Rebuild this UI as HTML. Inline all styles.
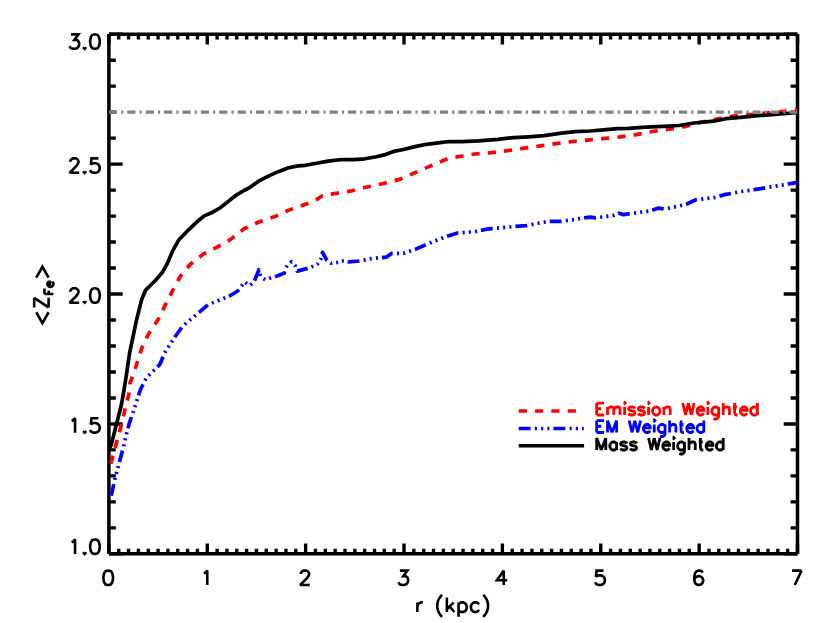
<!DOCTYPE html>
<html><head><meta charset="utf-8"><title>plot</title>
<style>
html,body{margin:0;padding:0;background:#fff;}
body{width:830px;height:623px;overflow:hidden;font-family:"Liberation Sans",sans-serif;}
svg{display:block;}
</style></head><body>
<svg width="830" height="623" viewBox="0 0 830 623">
<rect width="830" height="623" fill="#fff"/>
<defs><clipPath id="pw"><rect x="108.9" y="34.2" width="688.6" height="519.6"/></clipPath></defs>
<g fill="none" stroke="#000">
<path d="M108.90,553.85v-10.4M108.90,34.20v10.4M118.74,553.85v-5.2M118.74,34.20v5.2M128.57,553.85v-5.2M128.57,34.20v5.2M138.41,553.85v-5.2M138.41,34.20v5.2M148.25,553.85v-5.2M148.25,34.20v5.2M158.09,553.85v-5.2M158.09,34.20v5.2M167.92,553.85v-5.2M167.92,34.20v5.2M177.76,553.85v-5.2M177.76,34.20v5.2M187.60,553.85v-5.2M187.60,34.20v5.2M197.43,553.85v-5.2M197.43,34.20v5.2M207.27,553.85v-10.4M207.27,34.20v10.4M217.11,553.85v-5.2M217.11,34.20v5.2M226.95,553.85v-5.2M226.95,34.20v5.2M236.78,553.85v-5.2M236.78,34.20v5.2M246.62,553.85v-5.2M246.62,34.20v5.2M256.46,553.85v-5.2M256.46,34.20v5.2M266.29,553.85v-5.2M266.29,34.20v5.2M276.13,553.85v-5.2M276.13,34.20v5.2M285.97,553.85v-5.2M285.97,34.20v5.2M295.81,553.85v-5.2M295.81,34.20v5.2M305.64,553.85v-10.4M305.64,34.20v10.4M315.48,553.85v-5.2M315.48,34.20v5.2M325.32,553.85v-5.2M325.32,34.20v5.2M335.15,553.85v-5.2M335.15,34.20v5.2M344.99,553.85v-5.2M344.99,34.20v5.2M354.83,553.85v-5.2M354.83,34.20v5.2M364.67,553.85v-5.2M364.67,34.20v5.2M374.50,553.85v-5.2M374.50,34.20v5.2M384.34,553.85v-5.2M384.34,34.20v5.2M394.18,553.85v-5.2M394.18,34.20v5.2M404.01,553.85v-10.4M404.01,34.20v10.4M413.85,553.85v-5.2M413.85,34.20v5.2M423.69,553.85v-5.2M423.69,34.20v5.2M433.53,553.85v-5.2M433.53,34.20v5.2M443.36,553.85v-5.2M443.36,34.20v5.2M453.20,553.85v-5.2M453.20,34.20v5.2M463.04,553.85v-5.2M463.04,34.20v5.2M472.87,553.85v-5.2M472.87,34.20v5.2M482.71,553.85v-5.2M482.71,34.20v5.2M492.55,553.85v-5.2M492.55,34.20v5.2M502.39,553.85v-10.4M502.39,34.20v10.4M512.22,553.85v-5.2M512.22,34.20v5.2M522.06,553.85v-5.2M522.06,34.20v5.2M531.90,553.85v-5.2M531.90,34.20v5.2M541.73,553.85v-5.2M541.73,34.20v5.2M551.57,553.85v-5.2M551.57,34.20v5.2M561.41,553.85v-5.2M561.41,34.20v5.2M571.25,553.85v-5.2M571.25,34.20v5.2M581.08,553.85v-5.2M581.08,34.20v5.2M590.92,553.85v-5.2M590.92,34.20v5.2M600.76,553.85v-10.4M600.76,34.20v10.4M610.59,553.85v-5.2M610.59,34.20v5.2M620.43,553.85v-5.2M620.43,34.20v5.2M630.27,553.85v-5.2M630.27,34.20v5.2M640.11,553.85v-5.2M640.11,34.20v5.2M649.94,553.85v-5.2M649.94,34.20v5.2M659.78,553.85v-5.2M659.78,34.20v5.2M669.62,553.85v-5.2M669.62,34.20v5.2M679.45,553.85v-5.2M679.45,34.20v5.2M689.29,553.85v-5.2M689.29,34.20v5.2M699.13,553.85v-10.4M699.13,34.20v10.4M708.97,553.85v-5.2M708.97,34.20v5.2M718.80,553.85v-5.2M718.80,34.20v5.2M728.64,553.85v-5.2M728.64,34.20v5.2M738.48,553.85v-5.2M738.48,34.20v5.2M748.31,553.85v-5.2M748.31,34.20v5.2M758.15,553.85v-5.2M758.15,34.20v5.2M767.99,553.85v-5.2M767.99,34.20v5.2M777.83,553.85v-5.2M777.83,34.20v5.2M787.66,553.85v-5.2M787.66,34.20v5.2M797.50,553.85v-10.4M797.50,34.20v10.4M108.90,553.85h13.8M797.50,553.85h-13.8M108.90,527.87h6.9M797.50,527.87h-6.9M108.90,501.89h6.9M797.50,501.89h-6.9M108.90,475.90h6.9M797.50,475.90h-6.9M108.90,449.92h6.9M797.50,449.92h-6.9M108.90,423.94h13.8M797.50,423.94h-13.8M108.90,397.96h6.9M797.50,397.96h-6.9M108.90,371.97h6.9M797.50,371.97h-6.9M108.90,345.99h6.9M797.50,345.99h-6.9M108.90,320.01h6.9M797.50,320.01h-6.9M108.90,294.03h13.8M797.50,294.03h-13.8M108.90,268.04h6.9M797.50,268.04h-6.9M108.90,242.06h6.9M797.50,242.06h-6.9M108.90,216.08h6.9M797.50,216.08h-6.9M108.90,190.10h6.9M797.50,190.10h-6.9M108.90,164.11h13.8M797.50,164.11h-13.8M108.90,138.13h6.9M797.50,138.13h-6.9M108.90,112.15h6.9M797.50,112.15h-6.9M108.90,86.17h6.9M797.50,86.17h-6.9M108.90,60.18h6.9M797.50,60.18h-6.9M108.90,34.20h13.8M797.50,34.20h-13.8" stroke-width="3.4"/>
<path d="M108.9,553.85H797.5M108.9,34.2H797.5M108.9,34.2V553.85M797.5,34.2V553.85" stroke-width="3.5" stroke-linecap="butt"/>
</g>
<g fill="none" stroke-linejoin="round" clip-path="url(#pw)">
<polyline points="110.6,463.6 111.2,462.3 116.4,443.0 121.2,425.7 125.0,409.3 128.9,393.9 129.9,383.7 136.6,364.5 141.4,349.0 148.2,334.6 157.8,320.1 165.5,304.7 173.5,289.0 180.5,276.0 190.1,264.5 203.6,253.9 217.1,247.1 230.6,239.4 244.1,228.8 259.5,221.7 274.9,216.6 286.1,211.3 292.2,208.9 300.6,206.1 307.8,203.4 316.3,199.7 322.3,195.8 330.7,194.1 338.0,193.1 350.0,191.2 364.8,187.5 382.2,183.8 399.5,179.4 414.9,172.7 428.4,166.9 440.0,162.0 449.6,157.9 459.3,156.5 474.7,154.0 492.0,152.7 507.5,150.7 522.9,148.4 540.2,145.9 555.7,143.6 573.0,141.5 590.0,139.8 605.4,138.4 620.8,136.9 636.3,134.6 653.6,131.3 671.0,128.8 686.4,126.3 699.9,122.5 717.3,119.0 733.3,116.1 749.2,114.7 765.0,113.2 782.4,111.6 797.8,109.9" stroke="#ff0000" stroke-width="3.7" stroke-dasharray="8.2 8.13" stroke-dashoffset="0.00"/>
<polyline points="111.0,495.7 111.6,494.1 115.4,476.7 122.2,451.7 128.9,424.7 134.7,407.3 140.5,389.5 146.3,378.0 159.8,364.5 164.6,352.9 175.2,336.5 182.9,325.9 200.2,311.4 208.0,304.7 227.2,297.0 230.0,295.7 238.0,290.7 244.5,282.0 249.5,285.6 254.0,282.0 258.9,269.7 261.0,277.0 265.4,279.8 271.2,277.6 276.3,276.2 284.2,273.3 285.0,269.7 287.1,265.4 291.4,261.7 295.0,265.4 297.0,270.6" stroke="#0000ff" stroke-width="3.7" stroke-dasharray="11.903 4.301 2.101 4.101 2.101 4.101 2.101 4.001"/>
<polyline points="297.0,270.6 297.2,271.1 308.0,268.3 313.1,266.1 317.5,263.9 321.0,258.9 322.5,252.3 326.9,260.3 331.2,263.2 337.0,262.5 342.8,261.0 347.6,261.7" stroke="#0000ff" stroke-width="3.7" stroke-dasharray="11.328 4.093 1.999 3.903 1.999 3.903 1.999 3.808"/>
<polyline points="347.6,261.7 348.7,261.9 359.3,261.0 370.8,258.7 386.3,257.1 392.0,253.3 403.6,253.3 415.2,249.4 430.6,242.7 448.0,235.9 457.6,233.0 474.9,231.7 486.5,229.2 491.6,228.6 514.7,226.5 526.3,225.6 537.8,223.3 549.4,221.3 561.0,221.3 572.5,219.8 584.1,217.9 589.9,217.1 595.7,217.9 613.0,215.5 618.8,213.2 623.6,214.6 630.4,213.6 640.0,212.3 649.6,211.0 658.3,208.1 665.1,209.0 678.6,206.1 686.3,204.2 695.9,199.8 707.5,198.4 717.1,197.1 724.8,194.6 740.2,191.7 755.7,189.4 771.1,186.9 786.5,184.4 797.8,182.3" stroke="#0000ff" stroke-width="3.7" stroke-dasharray="11.9 4.3 2.1 4.1 2.1 4.1 2.1 4.0"/>
<polyline points="108.9,449.6 111.2,445.0 118.3,417.0 121.5,404.3 124.1,389.5 126.4,375.0 129.6,352.9 136.5,320.1 141.6,299.8 145.5,290.3 155.6,280.2 162.4,272.3 167.0,264.2 172.9,250.4 178.9,239.7 188.6,229.8 198.2,220.7 204.2,215.9 212.7,212.2 219.9,208.0 228.3,201.4 236.7,194.8 244.0,190.5 250.0,187.3 259.6,180.6 269.3,175.6 278.9,171.4 288.6,167.8 298.2,165.9 305.4,165.3 315.1,163.5 328.2,161.1 341.7,159.5 353.3,159.7 364.8,158.8 376.4,156.8 384.1,154.9 393.7,151.4 403.4,149.5 414.9,146.6 426.5,144.3 440.0,142.7 449.6,141.5 461.2,141.7 478.6,140.9 497.8,139.3 513.3,137.6 528.7,136.8 544.1,135.7 559.5,133.4 574.9,131.6 590.0,131.0 603.5,129.8 617.0,128.6 628.6,128.4 645.9,127.1 663.3,126.3 678.7,125.5 694.1,123.0 713.4,121.2 726.0,118.7 740.5,117.3 757.8,115.7 775.2,114.4 786.7,113.5 797.8,112.3" stroke="#000" stroke-width="3.7"/>
<path d="M108.9,112.1H797.5" stroke="#808080" stroke-width="3.4" stroke-dasharray="8.2 4.1 2.1 3.99"/>
</g>
<g fill="none" stroke="#000" stroke-linecap="butt" stroke-linejoin="miter" stroke-miterlimit="2.5" stroke-width="2.6">
<path d="M107.51,570.59L105.46,571.28L104.08,573.34L103.40,576.77L103.40,578.83L104.08,582.26L105.46,584.31L107.51,585.00L108.89,585.00L110.94,584.31L112.32,582.26L113.00,578.83L113.00,576.77L112.32,573.34L110.94,571.28L108.89,570.59L107.51,570.59M203.83,573.34L205.20,572.65L207.26,570.59L207.26,585.00M300.83,574.02L300.83,573.34L301.51,571.97L302.20,571.28L303.57,570.59L306.31,570.59L307.69,571.28L308.37,571.97L309.06,573.34L309.06,574.71L308.37,576.08L307.00,578.14L300.14,585.00L309.74,585.00M399.88,570.59L407.43,570.59L403.31,576.08L405.37,576.08L406.74,576.77L407.43,577.45L408.12,579.51L408.12,580.88L407.43,582.94L406.06,584.31L404.00,585.00L401.94,585.00L399.88,584.31L399.20,583.63L398.51,582.26M503.74,570.59L496.88,580.20L507.17,580.20M503.74,570.59L503.74,585.00M603.49,570.59L596.63,570.59L595.94,576.77L596.63,576.08L598.69,575.40L600.74,575.40L602.80,576.08L604.17,577.45L604.86,579.51L604.86,580.88L604.17,582.94L602.80,584.31L600.74,585.00L598.69,585.00L596.63,584.31L595.94,583.63L595.26,582.26M702.54,572.65L701.86,571.28L699.80,570.59L698.43,570.59L696.37,571.28L695.00,573.34L694.31,576.77L694.31,580.20L695.00,582.94L696.37,584.31L698.43,585.00L699.11,585.00L701.17,584.31L702.54,582.94L703.23,580.88L703.23,580.20L702.54,578.14L701.17,576.77L699.11,576.08L698.43,576.08L696.37,576.77L695.00,578.14L694.31,580.20M801.60,570.59L794.74,585.00M792.00,570.59L801.60,570.59M70.93,34.39L78.48,34.39L74.36,39.88L76.42,39.88L77.79,40.57L78.48,41.25L79.16,43.31L79.16,44.68L78.48,46.74L77.10,48.11L75.05,48.80L72.99,48.80L70.93,48.11L70.24,47.43L69.56,46.06M84.65,47.43L83.96,48.11L84.65,48.80L85.34,48.11L84.65,47.43M94.25,34.39L92.20,35.08L90.82,37.14L90.14,40.57L90.14,42.63L90.82,46.06L92.20,48.11L94.25,48.80L95.63,48.80L97.68,48.11L99.06,46.06L99.74,42.63L99.74,40.57L99.06,37.14L97.68,35.08L95.63,34.39L94.25,34.39M70.24,161.84L70.24,161.15L70.93,159.78L71.62,159.09L72.99,158.41L75.73,158.41L77.10,159.09L77.79,159.78L78.48,161.15L78.48,162.52L77.79,163.89L76.42,165.95L69.56,172.81L79.16,172.81M84.65,171.44L83.96,172.13L84.65,172.81L85.34,172.13L84.65,171.44M98.37,158.41L91.51,158.41L90.82,164.58L91.51,163.89L93.57,163.21L95.63,163.21L97.68,163.89L99.06,165.27L99.74,167.32L99.74,168.70L99.06,170.75L97.68,172.13L95.63,172.81L93.57,172.81L91.51,172.13L90.82,171.44L90.14,170.07M70.24,291.75L70.24,291.06L70.93,289.69L71.62,289.00L72.99,288.32L75.73,288.32L77.10,289.00L77.79,289.69L78.48,291.06L78.48,292.44L77.79,293.81L76.42,295.87L69.56,302.73L79.16,302.73M84.65,301.35L83.96,302.04L84.65,302.73L85.34,302.04L84.65,301.35M94.25,288.32L92.20,289.00L90.82,291.06L90.14,294.49L90.14,296.55L90.82,299.98L92.20,302.04L94.25,302.73L95.63,302.73L97.68,302.04L99.06,299.98L99.74,296.55L99.74,294.49L99.06,291.06L97.68,289.00L95.63,288.32L94.25,288.32M71.62,420.98L72.99,420.29L75.05,418.23L75.05,432.64M84.65,431.27L83.96,431.95L84.65,432.64L85.34,431.95L84.65,431.27M98.37,418.23L91.51,418.23L90.82,424.41L91.51,423.72L93.57,423.03L95.63,423.03L97.68,423.72L99.06,425.09L99.74,427.15L99.74,428.52L99.06,430.58L97.68,431.95L95.63,432.64L93.57,432.64L91.51,431.95L90.82,431.27L90.14,429.89M71.62,542.24L72.99,541.55L75.05,539.49L75.05,553.90M84.65,552.53L83.96,553.21L84.65,553.90L85.34,553.21L84.65,552.53M94.25,539.49L92.20,540.18L90.82,542.24L90.14,545.67L90.14,547.73L90.82,551.16L92.20,553.21L94.25,553.90L95.63,553.90L97.68,553.21L99.06,551.16L99.74,547.73L99.74,545.67L99.06,542.24L97.68,540.18L95.63,539.49L94.25,539.49M417.37,602.40L417.37,612.00M417.37,606.51L418.06,604.45L419.43,603.08L420.80,602.40L422.86,602.40M442.07,594.85L440.69,596.22L439.32,598.28L437.95,601.02L437.27,604.45L437.27,607.20L437.95,610.63L439.32,613.37L440.69,615.43L442.07,616.80M446.87,597.59L446.87,612.00M453.73,602.40L446.87,609.26M449.61,606.51L454.42,612.00M458.53,602.40L458.53,616.80M458.53,604.45L459.90,603.08L461.27,602.40L463.33,602.40L464.70,603.08L466.08,604.45L466.76,606.51L466.76,607.88L466.08,609.94L464.70,611.31L463.33,612.00L461.27,612.00L459.90,611.31L458.53,609.94M479.11,604.45L477.74,603.08L476.37,602.40L474.31,602.40L472.94,603.08L471.56,604.45L470.88,606.51L470.88,607.88L471.56,609.94L472.94,611.31L474.31,612.00L476.37,612.00L477.74,611.31L479.11,609.94M483.23,594.85L484.60,596.22L485.97,598.28L487.34,601.02L488.03,604.45L488.03,607.20L487.34,610.63L485.97,613.37L484.60,615.43L483.23,616.80"/>
<g transform="translate(48.6,294.98) rotate(-90)">
<path d="M-17.26,-12.35L-28.24,-6.17L-17.26,0.00M-2.85,-14.41L-12.46,0.00M-12.46,-14.41L-2.85,-14.41M-12.46,0.00L-2.85,0.00M17.26,-12.35L28.24,-6.17L17.26,0.00"/>
<path d="M0.91,-4.13L0.91,4.80M0.91,-4.13L6.43,-4.13M0.91,0.12L4.31,0.12M8.14,1.40L13.24,1.40L13.24,0.55L12.81,-0.30L12.39,-0.73L11.54,-1.15L10.26,-1.15L9.41,-0.73L8.56,0.12L8.14,1.40L8.14,2.25L8.56,3.52L9.41,4.37L10.26,4.80L11.54,4.80L12.39,4.37L13.24,3.52"/>
</g>
</g>
<g fill="none" stroke-width="3.5">
<path d="M518.7,411.0H583.8" stroke="#ff0000" stroke-dasharray="8.2 8.13"/>
<path d="M518.7,428.4H583.8" stroke="#0000ff" stroke-dasharray="11.9 4.3 2.1 4.1 2.1 4.1 2.1 4.0"/>
<path d="M518.7,445.7H584.1" stroke="#000"/>
</g>
<g fill="none" stroke-linecap="butt" stroke-linejoin="miter" stroke-miterlimit="2.5" stroke-width="2.8">
<path d="M596.68,403.03L596.68,415.00M596.68,403.03L604.09,403.03M596.68,408.73L601.24,408.73M596.68,415.00L604.09,415.00M607.51,407.02L607.51,415.00M607.51,409.30L609.22,407.59L610.36,407.02L612.07,407.02L613.21,407.59L613.78,409.30L613.78,415.00M613.78,409.30L615.49,407.59L616.63,407.02L618.34,407.02L619.48,407.59L620.05,409.30L620.05,415.00M624.04,403.03L624.61,403.60L625.18,403.03L624.61,402.46L624.04,403.03M624.61,407.02L624.61,415.00M634.87,408.73L634.30,407.59L632.59,407.02L630.88,407.02L629.17,407.59L628.60,408.73L629.17,409.87L630.31,410.44L633.16,411.01L634.30,411.58L634.87,412.72L634.87,413.29L634.30,414.43L632.59,415.00L630.88,415.00L629.17,414.43L628.60,413.29M644.56,408.73L643.99,407.59L642.28,407.02L640.57,407.02L638.86,407.59L638.29,408.73L638.86,409.87L640.00,410.44L642.85,411.01L643.99,411.58L644.56,412.72L644.56,413.29L643.99,414.43L642.28,415.00L640.57,415.00L638.86,414.43L638.29,413.29M647.98,403.03L648.55,403.60L649.12,403.03L648.55,402.46L647.98,403.03M648.55,407.02L648.55,415.00M655.39,407.02L654.25,407.59L653.11,408.73L652.54,410.44L652.54,411.58L653.11,413.29L654.25,414.43L655.39,415.00L657.10,415.00L658.24,414.43L659.38,413.29L659.95,411.58L659.95,410.44L659.38,408.73L658.24,407.59L657.10,407.02L655.39,407.02M663.94,407.02L663.94,415.00M663.94,409.30L665.65,407.59L666.79,407.02L668.50,407.02L669.64,407.59L670.21,409.30L670.21,415.00M682.75,403.03L685.60,415.00M688.45,403.03L685.60,415.00M688.45,403.03L691.30,415.00M694.15,403.03L691.30,415.00M697.00,410.44L703.84,410.44L703.84,409.30L703.27,408.16L702.70,407.59L701.56,407.02L699.85,407.02L698.71,407.59L697.57,408.73L697.00,410.44L697.00,411.58L697.57,413.29L698.71,414.43L699.85,415.00L701.56,415.00L702.70,414.43L703.84,413.29M707.26,403.03L707.83,403.60L708.40,403.03L707.83,402.46L707.26,403.03M707.83,407.02L707.83,415.00M718.66,407.02L718.66,416.14L718.09,417.85L717.52,418.42L716.38,418.99L714.67,418.99L713.53,418.42M718.66,408.73L717.52,407.59L716.38,407.02L714.67,407.02L713.53,407.59L712.39,408.73L711.82,410.44L711.82,411.58L712.39,413.29L713.53,414.43L714.67,415.00L716.38,415.00L717.52,414.43L718.66,413.29M723.22,403.03L723.22,415.00M723.22,409.30L724.93,407.59L726.07,407.02L727.78,407.02L728.92,407.59L729.49,409.30L729.49,415.00M734.62,403.03L734.62,412.72L735.19,414.43L736.33,415.00L737.47,415.00M732.91,407.02L736.90,407.02M740.32,410.44L747.16,410.44L747.16,409.30L746.59,408.16L746.02,407.59L744.88,407.02L743.17,407.02L742.03,407.59L740.89,408.73L740.32,410.44L740.32,411.58L740.89,413.29L742.03,414.43L743.17,415.00L744.88,415.00L746.02,414.43L747.16,413.29M757.42,403.03L757.42,415.00M757.42,408.73L756.28,407.59L755.14,407.02L753.43,407.02L752.29,407.59L751.15,408.73L750.58,410.44L750.58,411.58L751.15,413.29L752.29,414.43L753.43,415.00L755.14,415.00L756.28,414.43L757.42,413.29" stroke="#ff0000"/>
<path d="M596.68,420.53L596.68,432.50M596.68,420.53L604.09,420.53M596.68,426.23L601.24,426.23M596.68,432.50L604.09,432.50M607.51,420.53L607.51,432.50M607.51,420.53L612.07,432.50M616.63,420.53L612.07,432.50M616.63,420.53L616.63,432.50M629.17,420.53L632.02,432.50M634.87,420.53L632.02,432.50M634.87,420.53L637.72,432.50M640.57,420.53L637.72,432.50M643.42,427.94L650.26,427.94L650.26,426.80L649.69,425.66L649.12,425.09L647.98,424.52L646.27,424.52L645.13,425.09L643.99,426.23L643.42,427.94L643.42,429.08L643.99,430.79L645.13,431.93L646.27,432.50L647.98,432.50L649.12,431.93L650.26,430.79M653.68,420.53L654.25,421.10L654.82,420.53L654.25,419.96L653.68,420.53M654.25,424.52L654.25,432.50M665.08,424.52L665.08,433.64L664.51,435.35L663.94,435.92L662.80,436.49L661.09,436.49L659.95,435.92M665.08,426.23L663.94,425.09L662.80,424.52L661.09,424.52L659.95,425.09L658.81,426.23L658.24,427.94L658.24,429.08L658.81,430.79L659.95,431.93L661.09,432.50L662.80,432.50L663.94,431.93L665.08,430.79M669.64,420.53L669.64,432.50M669.64,426.80L671.35,425.09L672.49,424.52L674.20,424.52L675.34,425.09L675.91,426.80L675.91,432.50M681.04,420.53L681.04,430.22L681.61,431.93L682.75,432.50L683.89,432.50M679.33,424.52L683.32,424.52M686.74,427.94L693.58,427.94L693.58,426.80L693.01,425.66L692.44,425.09L691.30,424.52L689.59,424.52L688.45,425.09L687.31,426.23L686.74,427.94L686.74,429.08L687.31,430.79L688.45,431.93L689.59,432.50L691.30,432.50L692.44,431.93L693.58,430.79M703.84,420.53L703.84,432.50M703.84,426.23L702.70,425.09L701.56,424.52L699.85,424.52L698.71,425.09L697.57,426.23L697.00,427.94L697.00,429.08L697.57,430.79L698.71,431.93L699.85,432.50L701.56,432.50L702.70,431.93L703.84,430.79" stroke="#0000ff"/>
<path d="M596.68,438.03L596.68,450.00M596.68,438.03L601.24,450.00M605.80,438.03L601.24,450.00M605.80,438.03L605.80,450.00M616.63,442.02L616.63,450.00M616.63,443.73L615.49,442.59L614.35,442.02L612.64,442.02L611.50,442.59L610.36,443.73L609.79,445.44L609.79,446.58L610.36,448.29L611.50,449.43L612.64,450.00L614.35,450.00L615.49,449.43L616.63,448.29M626.89,443.73L626.32,442.59L624.61,442.02L622.90,442.02L621.19,442.59L620.62,443.73L621.19,444.87L622.33,445.44L625.18,446.01L626.32,446.58L626.89,447.72L626.89,448.29L626.32,449.43L624.61,450.00L622.90,450.00L621.19,449.43L620.62,448.29M636.58,443.73L636.01,442.59L634.30,442.02L632.59,442.02L630.88,442.59L630.31,443.73L630.88,444.87L632.02,445.44L634.87,446.01L636.01,446.58L636.58,447.72L636.58,448.29L636.01,449.43L634.30,450.00L632.59,450.00L630.88,449.43L630.31,448.29M648.55,438.03L651.40,450.00M654.25,438.03L651.40,450.00M654.25,438.03L657.10,450.00M659.95,438.03L657.10,450.00M662.80,445.44L669.64,445.44L669.64,444.30L669.07,443.16L668.50,442.59L667.36,442.02L665.65,442.02L664.51,442.59L663.37,443.73L662.80,445.44L662.80,446.58L663.37,448.29L664.51,449.43L665.65,450.00L667.36,450.00L668.50,449.43L669.64,448.29M673.06,438.03L673.63,438.60L674.20,438.03L673.63,437.46L673.06,438.03M673.63,442.02L673.63,450.00M684.46,442.02L684.46,451.14L683.89,452.85L683.32,453.42L682.18,453.99L680.47,453.99L679.33,453.42M684.46,443.73L683.32,442.59L682.18,442.02L680.47,442.02L679.33,442.59L678.19,443.73L677.62,445.44L677.62,446.58L678.19,448.29L679.33,449.43L680.47,450.00L682.18,450.00L683.32,449.43L684.46,448.29M689.02,438.03L689.02,450.00M689.02,444.30L690.73,442.59L691.87,442.02L693.58,442.02L694.72,442.59L695.29,444.30L695.29,450.00M700.42,438.03L700.42,447.72L700.99,449.43L702.13,450.00L703.27,450.00M698.71,442.02L702.70,442.02M706.12,445.44L712.96,445.44L712.96,444.30L712.39,443.16L711.82,442.59L710.68,442.02L708.97,442.02L707.83,442.59L706.69,443.73L706.12,445.44L706.12,446.58L706.69,448.29L707.83,449.43L708.97,450.00L710.68,450.00L711.82,449.43L712.96,448.29M723.22,438.03L723.22,450.00M723.22,443.73L722.08,442.59L720.94,442.02L719.23,442.02L718.09,442.59L716.95,443.73L716.38,445.44L716.38,446.58L716.95,448.29L718.09,449.43L719.23,450.00L720.94,450.00L722.08,449.43L723.22,448.29" stroke="#000"/>
</g>
</svg>
</body></html>
